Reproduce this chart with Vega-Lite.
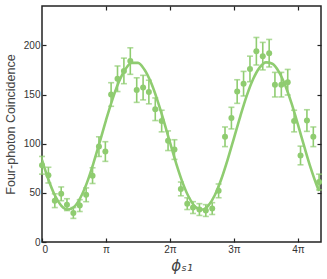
{
  "$schema": "https://vega.github.io/schema/vega-lite/v6.json",
  "autosize": {"type": "none"},
  "width": 279,
  "height": 236,
  "padding": {"left": 42, "top": 6, "right": 6, "bottom": 37},
  "background": "white",
  "config": {
    "view": {"stroke": "#222", "strokeWidth": 1.5},
    "axis": {"domain": false, "grid": false, "labelFont": "Liberation Sans", "titleFont": "Liberation Sans", "labelColor": "#333", "titleColor": "#444", "tickColor": "#222", "tickWidth": 1.2, "labelFontSize": 10, "titleFontSize": 11, "titleFontWeight": "normal"}
  },
  "datasets": {
    "pts": [
      {"x": 0.00, "y": 78, "err": 9},
      {"x": 0.10, "y": 68, "err": 8},
      {"x": 0.20, "y": 42, "err": 7},
      {"x": 0.30, "y": 49, "err": 7},
      {"x": 0.39, "y": 38, "err": 6},
      {"x": 0.49, "y": 29.5, "err": 5.5},
      {"x": 0.59, "y": 37, "err": 6},
      {"x": 0.69, "y": 48, "err": 7},
      {"x": 0.79, "y": 67.5, "err": 8},
      {"x": 0.89, "y": 97, "err": 10},
      {"x": 0.99, "y": 92, "err": 10},
      {"x": 1.08, "y": 150, "err": 12},
      {"x": 1.18, "y": 166, "err": 13},
      {"x": 1.28, "y": 174, "err": 13},
      {"x": 1.38, "y": 184, "err": 13.5},
      {"x": 1.48, "y": 154.5, "err": 12.5},
      {"x": 1.58, "y": 157, "err": 12.5},
      {"x": 1.67, "y": 152.5, "err": 12},
      {"x": 1.77, "y": 135, "err": 11.5},
      {"x": 1.87, "y": 123, "err": 11},
      {"x": 1.97, "y": 103, "err": 10},
      {"x": 2.07, "y": 94, "err": 10},
      {"x": 2.17, "y": 54, "err": 7},
      {"x": 2.27, "y": 39, "err": 6},
      {"x": 2.36, "y": 35, "err": 6},
      {"x": 2.46, "y": 33, "err": 6},
      {"x": 2.56, "y": 32, "err": 6},
      {"x": 2.66, "y": 34, "err": 6},
      {"x": 2.76, "y": 52, "err": 7},
      {"x": 2.86, "y": 107, "err": 10},
      {"x": 2.96, "y": 126, "err": 11},
      {"x": 3.05, "y": 153, "err": 12},
      {"x": 3.15, "y": 161, "err": 12.5},
      {"x": 3.25, "y": 176, "err": 13},
      {"x": 3.35, "y": 194, "err": 14},
      {"x": 3.45, "y": 189, "err": 14},
      {"x": 3.55, "y": 192, "err": 14},
      {"x": 3.64, "y": 160, "err": 12.5},
      {"x": 3.74, "y": 160, "err": 12.5},
      {"x": 3.84, "y": 162.5, "err": 13},
      {"x": 3.94, "y": 123, "err": 11},
      {"x": 4.04, "y": 88, "err": 9.5},
      {"x": 4.14, "y": 123.5, "err": 11},
      {"x": 4.24, "y": 107, "err": 10},
      {"x": 4.33, "y": 61, "err": 8}
    ],
    "fit": [
      {"x": 0.0, "y": 83.5}, {"x": 0.1, "y": 63.5}, {"x": 0.2, "y": 47.5}, {"x": 0.3, "y": 37.1},
      {"x": 0.4, "y": 33.0}, {"x": 0.5, "y": 35.7}, {"x": 0.6, "y": 45.0}, {"x": 0.7, "y": 59.9},
      {"x": 0.8, "y": 79.3}, {"x": 0.9, "y": 101.2}, {"x": 1.0, "y": 123.8}, {"x": 1.1, "y": 144.8},
      {"x": 1.2, "y": 162.6}, {"x": 1.3, "y": 175.4}, {"x": 1.4, "y": 182.2}, {"x": 1.5, "y": 182.2},
      {"x": 1.6, "y": 175.4}, {"x": 1.7, "y": 162.6}, {"x": 1.8, "y": 144.8}, {"x": 1.9, "y": 123.8},
      {"x": 2.0, "y": 101.2}, {"x": 2.1, "y": 79.3}, {"x": 2.2, "y": 59.9}, {"x": 2.3, "y": 45.0},
      {"x": 2.4, "y": 35.7}, {"x": 2.5, "y": 33.0}, {"x": 2.6, "y": 37.1}, {"x": 2.7, "y": 47.5},
      {"x": 2.8, "y": 63.5}, {"x": 2.9, "y": 83.5}, {"x": 3.0, "y": 105.7}, {"x": 3.1, "y": 128.1},
      {"x": 3.2, "y": 148.8}, {"x": 3.3, "y": 165.7}, {"x": 3.4, "y": 177.3}, {"x": 3.5, "y": 182.7},
      {"x": 3.6, "y": 181.3}, {"x": 3.7, "y": 173.3}, {"x": 3.8, "y": 159.4}, {"x": 3.9, "y": 140.9},
      {"x": 4.0, "y": 119.3}, {"x": 4.1, "y": 96.7}, {"x": 4.2, "y": 75.1}, {"x": 4.3, "y": 56.5},
      {"x": 4.33, "y": 51.8}
    ]
  },
  "layer": [
    {
      "data": {"name": "fit"},
      "mark": {"type": "line", "color": "#8fcc70", "strokeWidth": 2.6, "interpolate": "monotone", "clip": true},
      "encoding": {
        "x": {"field": "x", "type": "quantitative", "scale": {"domain": [0, 4.36], "nice": false, "zero": false},
          "axis": {"orient": "top", "values": [1, 2, 3, 4], "labels": false, "tickSize": -4, "title": null}},
        "y": {"field": "y", "type": "quantitative", "scale": {"domain": [0, 240], "nice": false},
          "axis": {"orient": "right", "values": [50, 100, 150, 200], "labels": false, "tickSize": -4, "title": null}}
      }
    },
    {
      "data": {"name": "pts"},
      "mark": {"type": "errorbar", "color": "#8fcc70", "thickness": 1.6, "ticks": {"size": 6, "thickness": 1.6}},
      "encoding": {
        "x": {"field": "x", "type": "quantitative", "axis": null},
        "y": {"field": "y", "type": "quantitative", "axis": null},
        "yError": {"field": "err"}
      }
    },
    {
      "data": {"name": "pts"},
      "mark": {"type": "circle", "color": "#8fcc70", "opacity": 1, "size": 36},
      "encoding": {
        "x": {"field": "x", "type": "quantitative",
          "axis": {"orient": "bottom", "values": [0, 1, 2, 3, 4], "tickSize": -4, "labelPadding": 6,
            "labelExpr": "datum.value == 0 ? '0' : (datum.value == 1 ? 'π' : datum.value + 'π')",
            "title": "ϕₛ₁", "titleFont": "DejaVu Sans", "titleFontSize": 15, "titleFontStyle": "italic", "titlePadding": 4}},
        "y": {"field": "y", "type": "quantitative",
          "axis": {"orient": "left", "values": [0, 50, 100, 150, 200], "tickSize": -4, "labelPadding": 6,
            "title": "Four-photon Coincidence", "titleFontSize": 12.5, "titlePadding": 6}}
      }
    }
  ],
  "resolve": {"axis": {"x": "independent", "y": "independent"}}
}
